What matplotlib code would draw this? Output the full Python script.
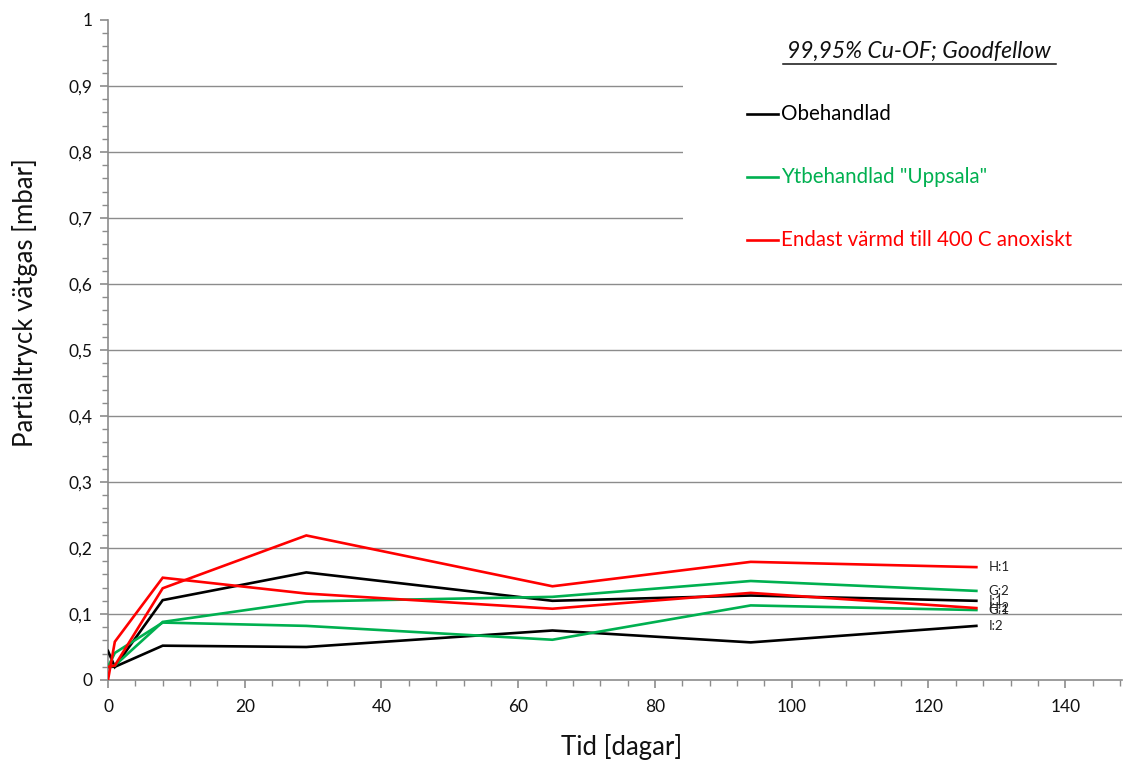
import matplotlib
matplotlib.use("Agg")
import matplotlib.pyplot as plt
from matplotlib.patches import Rectangle
from matplotlib.ticker import MultipleLocator, FuncFormatter

# Measurement times (days) and hydrogen partial pressure (mbar)
days = [0, 1, 8, 29, 65, 94, 127]

i1 = [0.044, 0.020, 0.121, 0.163, 0.120, 0.128, 0.120]
i2 = [0.020, 0.020, 0.052, 0.050, 0.075, 0.057, 0.082]
g1 = [0.020, 0.041, 0.087, 0.082, 0.061, 0.113, 0.106]
g2 = [0.020, 0.022, 0.088, 0.119, 0.126, 0.150, 0.135]
h1 = [0.020, 0.022, 0.139, 0.219, 0.142, 0.179, 0.171]
h2 = [0.000, 0.058, 0.155, 0.131, 0.108, 0.132, 0.109]

series_names = ["I:1", "I:2", "G:1", "G:2", "H:1", "H:2"]
series_values = [i1, i2, g1, g2, h1, h2]

BLACK = "#000000"
GREEN = "#00B050"
RED = "#FF0000"
series_colors = [BLACK, BLACK, GREEN, GREEN, RED, RED]

legend_labels = ["Obehandlad", 'Ytbehandlad "Uppsala"', "Endast värmd till 400 C anoxiskt"]
legend_colors = [BLACK, GREEN, RED]
title_text = "99,95% Cu-OF; Goodfellow"

plt.rcParams["font.family"] = ["Lato", "DejaVu Sans"]

W, H = 1123, 765
fig = plt.figure(figsize=(W / 100, H / 100), dpi=100)
ax = fig.add_axes([108 / W, (H - 680) / H, (1122 - 108) / W, 660 / H])

ax.set_xlim(0, 148.3)
ax.set_ylim(0, 1)

grid_grey = "#8c8c8c"
for y in [0.1, 0.2, 0.3, 0.4, 0.5, 0.6, 0.7, 0.8, 0.9]:
    ax.axhline(y, color=grid_grey, lw=1.0, zorder=1)

# white backing behind the legend block hides the gridlines there
ax.add_patch(Rectangle((84.1, 0.65), 100, 0.4, facecolor="white", edgecolor="none", zorder=2))

for name, vals, col in zip(series_names, series_values, series_colors):
    ax.plot(days, vals, color=col, lw=1.9, zorder=3, solid_joinstyle="miter")
    ax.annotate(name, xy=(days[-1], vals[-1]), xytext=(9, 0), textcoords="offset points",
                va="center", ha="left", fontsize=9.5, color="#222222", zorder=4)

for s in ["top", "right"]:
    ax.spines[s].set_visible(False)
for s in ["left", "bottom"]:
    ax.spines[s].set_color(grid_grey)
    ax.spines[s].set_linewidth(1.2)

ax.xaxis.set_major_locator(MultipleLocator(20))
ax.xaxis.set_minor_locator(MultipleLocator(4))
ax.yaxis.set_major_locator(MultipleLocator(0.1))
ax.yaxis.set_minor_locator(MultipleLocator(0.02))
ax.yaxis.set_major_formatter(FuncFormatter(lambda v, p: ("%g" % round(v, 2)).replace(".", ",")))
ax.tick_params(axis="both", which="major", direction="out", length=6, width=1.2,
               color=grid_grey, labelsize=12.5, labelcolor="#111111")
ax.tick_params(axis="both", which="minor", direction="out", length=4, width=1.0, color=grid_grey)
ax.tick_params(axis="x", which="major", pad=8)
ax.tick_params(axis="y", which="major", pad=5)

ax.set_xlabel("Tid [dagar]", fontsize=18.5, color="#111111")
ax.xaxis.set_label_coords(0.507, -0.082)
fig.text(25 / W, 1 - 303 / H, "Partialtryck vätgas [mbar]", fontsize=18.5, color="#111111",
         rotation=90, ha="center", va="center")

# title and legend block
fig.text(919 / W, 1 - 51 / H, title_text, fontsize=16.5, style="italic",
             ha="center", va="center", color="#111111")
fig.add_artist(plt.Line2D([783 / W, 1056 / W], [1 - 64 / H, 1 - 64 / H],
                          color="#111111", lw=1.1))

legend_y = [114, 177, 240]
for lab, col, yy in zip(legend_labels, legend_colors, legend_y):
    fig.add_artist(plt.Line2D([747 / W, 778 / W], [1 - yy / H, 1 - yy / H], color=col, lw=1.9))
    fig.text(781 / W, 1 - yy / H, lab, fontsize=14.8, color=col, ha="left", va="center")

fig.savefig("out.png", dpi=100, facecolor="white")
